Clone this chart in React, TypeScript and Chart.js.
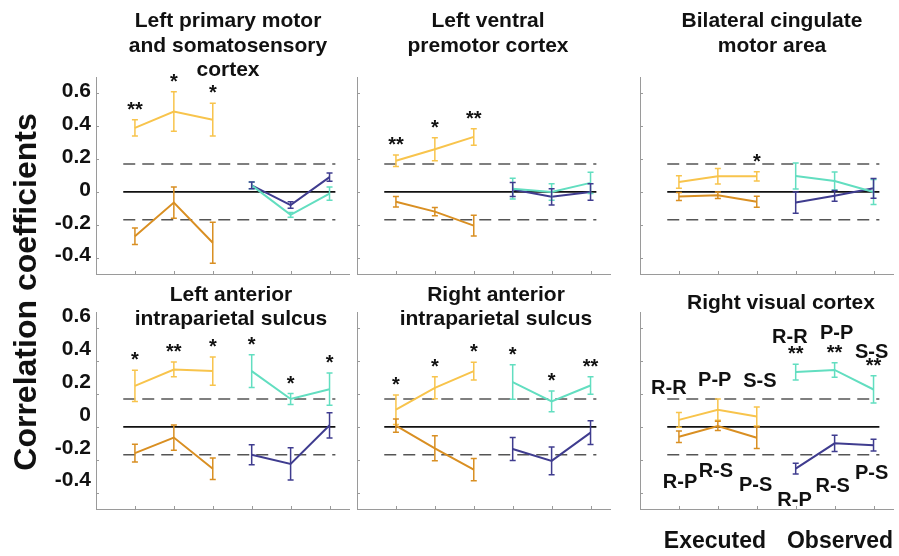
import React, { useEffect, useRef } from 'react';
import { Chart, registerables } from 'chart.js';

Chart.register(...registerables);

const FONT = "'Liberation Sans', Arial, Helvetica, sans-serif";

// ---------- shared axes data ----------
const executedX = [1, 2, 3];
const observedX = [4, 5, 6];
const conditionTicks = [1, 2, 3, 4, 5, 6];
const yTickValues = [-0.4, -0.2, 0, 0.2, 0.4, 0.6];
const yTickLabels = ['-0.4', '-0.2', '0', '0.2', '0.4', '0.6'];
const significanceThreshold = 0.17;
const referenceSpan = [0.7, 6.15];
const bottomLabels = ['Executed', 'Observed'];
const yAxisTitle = 'Correlation coefficients';

// ---------- A: Left primary motor and somatosensory cortex ----------
const aTitle = ['Left primary motor', 'and somatosensory', 'cortex'];
const aExecSame = [0.39, 0.49, 0.44];
const aExecSameErr = [0.05, 0.12, 0.1];
const aExecSameStars = ['**', '*', '*'];
const aExecDiff = [-0.27, -0.065, -0.31];
const aExecDiffErr = [0.05, 0.095, 0.125];
const aObsSame = [0.04, -0.14, -0.01];
const aObsSameErr = [0.02, 0.015, 0.04];
const aObsDiff = [0.04, -0.08, 0.09];
const aObsDiffErr = [0.02, 0.02, 0.025];

// ---------- B: Left ventral premotor cortex ----------
const bTitle = ['Left ventral', 'premotor cortex'];
const bExecSame = [0.19, 0.26, 0.335];
const bExecSameErr = [0.035, 0.07, 0.05];
const bExecSameStars = ['**', '*', '**'];
const bExecDiff = [-0.06, -0.12, -0.205];
const bExecDiffErr = [0.032, 0.025, 0.063];
const bObsSame = [0.02, 0.0, 0.055];
const bObsSameErr = [0.063, 0.05, 0.065];
const bObsDiff = [0.015, -0.03, 0.0];
const bObsDiffErr = [0.043, 0.05, 0.05];

// ---------- C: Bilateral cingulate motor area ----------
const cTitle = ['Bilateral cingulate', 'motor area'];
const cExecSame = [0.06, 0.095, 0.095];
const cExecSameErr = [0.038, 0.047, 0.028];
const cExecSameStars = ['', '', '*'];
const cExecDiff = [-0.028, -0.02, -0.06];
const cExecDiffErr = [0.025, 0.02, 0.033];
const cObsSame = [0.097, 0.067, 0.0];
const cObsSameErr = [0.079, 0.055, 0.076];
const cObsDiff = [-0.065, -0.024, 0.022];
const cObsDiffErr = [0.065, 0.033, 0.06];

// ---------- D: Left anterior intraparietal sulcus ----------
const dTitle = ['Left anterior', 'intraparietal sulcus'];
const dExecSame = [0.25, 0.35, 0.34];
const dExecSameErr = [0.095, 0.045, 0.086];
const dExecSameStars = ['*', '**', '*'];
const dExecDiff = [-0.16, -0.065, -0.255];
const dExecDiffErr = [0.054, 0.077, 0.066];
const dObsSame = [0.34, 0.17, 0.23];
const dObsSameErr = [0.1, 0.033, 0.098];
const dObsSameStars = ['*', '*', '*'];
const dObsDiff = [-0.17, -0.225, 0.01];
const dObsDiffErr = [0.061, 0.098, 0.077];

// ---------- E: Right anterior intraparietal sulcus ----------
const eTitle = ['Right anterior', 'intraparietal sulcus'];
const eExecSame = [0.105, 0.238, 0.34];
const eExecSameErr = [0.09, 0.067, 0.054];
const eExecSameStars = ['*', '*', '*'];
const eExecDiff = [0.008, -0.13, -0.26];
const eExecDiffErr = [0.04, 0.076, 0.068];
const eObsSame = [0.273, 0.156, 0.252];
const eObsSameErr = [0.105, 0.063, 0.053];
const eObsSameStars = ['*', '*', '**'];
const eObsDiff = [-0.135, -0.207, -0.035];
const eObsDiffErr = [0.07, 0.085, 0.072];

// ---------- F: Right visual cortex ----------
const fTitle = ['Right visual cortex'];
const fExecSame = [0.043, 0.105, 0.064];
const fExecSameErr = [0.045, 0.065, 0.058];
const fExecDiff = [-0.06, 0.006, -0.066];
const fExecDiffErr = [0.035, 0.028, 0.066];
const fObsSame = [0.334, 0.347, 0.228];
const fObsSameErr = [0.048, 0.044, 0.083];
const fObsSameStars = ['**', '**', '**'];
const fObsDiff = [-0.254, -0.1, -0.111];
const fObsDiffErr = [0.033, 0.05, 0.036];

// pair labels in the visual-cortex panel
const pairLabelText = ['R-R', 'P-P', 'S-S', 'R-R', 'P-P', 'S-S', 'R-P', 'R-S', 'P-S', 'R-P', 'R-S', 'P-S'];
const pairLabelX = [0.74, 1.92, 3.08, 3.85, 5.05, 5.95, 1.03, 1.95, 2.97, 3.97, 4.95, 5.95];
const pairLabelY = [0.246, 0.29, 0.287, 0.555, 0.576, 0.46, -0.332, -0.262, -0.345, -0.442, -0.351, -0.277];

// ---------- styles ----------
const COLOR_EXEC_SAME = '#f8c44c';
const COLOR_EXEC_DIFF = '#d98f22';
const COLOR_OBS_SAME = '#62dec0';
const COLOR_OBS_DIFF = '#3f3c8f';
const AXIS_COLOR = '#9a9a9a';
const TEXT_COLOR = '#111111';

const COL_LEFT = [96, 357, 640];
const AREA_W = 253;
const ROW_TOP = [77, 312];
const AREA_H = 197;
const PAD_T = 30;
const PAD_R = 8;
const PAD_B = 22;

type Series = { xs: number[]; values: number[]; errors: number[]; stars?: string[]; color: string };
type Note = { text: string; x: number; y: number };

function series(xs: number[], values: number[], errors: number[], color: string, stars?: string[]): Series {
  return { xs, values, errors, color, stars };
}

type PanelSpec = { title: string[]; row: number; col: number; series: Series[]; notes: Note[] };

const panels: PanelSpec[] = [
  {
    title: aTitle, row: 0, col: 0, notes: [],
    series: [
      series(executedX, aExecSame, aExecSameErr, COLOR_EXEC_SAME, aExecSameStars),
      series(executedX, aExecDiff, aExecDiffErr, COLOR_EXEC_DIFF),
      series(observedX, aObsSame, aObsSameErr, COLOR_OBS_SAME),
      series(observedX, aObsDiff, aObsDiffErr, COLOR_OBS_DIFF),
    ],
  },
  {
    title: bTitle, row: 0, col: 1, notes: [],
    series: [
      series(executedX, bExecSame, bExecSameErr, COLOR_EXEC_SAME, bExecSameStars),
      series(executedX, bExecDiff, bExecDiffErr, COLOR_EXEC_DIFF),
      series(observedX, bObsSame, bObsSameErr, COLOR_OBS_SAME),
      series(observedX, bObsDiff, bObsDiffErr, COLOR_OBS_DIFF),
    ],
  },
  {
    title: cTitle, row: 0, col: 2, notes: [],
    series: [
      series(executedX, cExecSame, cExecSameErr, COLOR_EXEC_SAME, cExecSameStars),
      series(executedX, cExecDiff, cExecDiffErr, COLOR_EXEC_DIFF),
      series(observedX, cObsSame, cObsSameErr, COLOR_OBS_SAME),
      series(observedX, cObsDiff, cObsDiffErr, COLOR_OBS_DIFF),
    ],
  },
  {
    title: dTitle, row: 1, col: 0, notes: [],
    series: [
      series(executedX, dExecSame, dExecSameErr, COLOR_EXEC_SAME, dExecSameStars),
      series(executedX, dExecDiff, dExecDiffErr, COLOR_EXEC_DIFF),
      series(observedX, dObsSame, dObsSameErr, COLOR_OBS_SAME, dObsSameStars),
      series(observedX, dObsDiff, dObsDiffErr, COLOR_OBS_DIFF),
    ],
  },
  {
    title: eTitle, row: 1, col: 1, notes: [],
    series: [
      series(executedX, eExecSame, eExecSameErr, COLOR_EXEC_SAME, eExecSameStars),
      series(executedX, eExecDiff, eExecDiffErr, COLOR_EXEC_DIFF),
      series(observedX, eObsSame, eObsSameErr, COLOR_OBS_SAME, eObsSameStars),
      series(observedX, eObsDiff, eObsDiffErr, COLOR_OBS_DIFF),
    ],
  },
  {
    title: fTitle, row: 1, col: 2,
    notes: pairLabelText.map((t, i) => ({ text: t, x: pairLabelX[i], y: pairLabelY[i] })),
    series: [
      series(executedX, fExecSame, fExecSameErr, COLOR_EXEC_SAME),
      series(executedX, fExecDiff, fExecDiffErr, COLOR_EXEC_DIFF),
      series(observedX, fObsSame, fObsSameErr, COLOR_OBS_SAME, fObsSameStars),
      series(observedX, fObsDiff, fObsDiffErr, COLOR_OBS_DIFF),
    ],
  },
];

const titleCenters = [228, 488, 772, 231, 496, 781];
const titleTops = [8, 8, 8, 281.5, 281.5, 289.5];

function makeDecor(notes: Note[]) {
  return {
    id: 'decor',
    afterDatasetsDraw(chart: any) {
      const ctx = chart.ctx as CanvasRenderingContext2D;
      const xS = chart.scales.x;
      const yS = chart.scales.y;
      const area = chart.chartArea;
      ctx.save();
      // inward tick marks
      ctx.strokeStyle = AXIS_COLOR;
      ctx.lineWidth = 1;
      yTickValues.forEach((v) => {
        const py = Math.round(yS.getPixelForValue(v)) + 0.5;
        ctx.beginPath();
        ctx.moveTo(area.left, py);
        ctx.lineTo(area.left + 3, py);
        ctx.stroke();
      });
      conditionTicks.forEach((v) => {
        const px = Math.round(xS.getPixelForValue(v)) + 0.5;
        ctx.beginPath();
        ctx.moveTo(px, area.bottom);
        ctx.lineTo(px, area.bottom - 3);
        ctx.stroke();
      });
      // error bars and stars
      chart.data.datasets.forEach((ds: any) => {
        if (!ds.errors) return;
        ctx.strokeStyle = ds.borderColor;
        ctx.lineWidth = 1.5;
        ds.data.forEach((pt: any, i: number) => {
          const px = xS.getPixelForValue(pt.x);
          const top = yS.getPixelForValue(pt.y + ds.errors[i]);
          const bot = yS.getPixelForValue(pt.y - ds.errors[i]);
          ctx.beginPath();
          ctx.moveTo(px, top);
          ctx.lineTo(px, bot);
          ctx.moveTo(px - 3, top);
          ctx.lineTo(px + 3, top);
          ctx.moveTo(px - 3, bot);
          ctx.lineTo(px + 3, bot);
          ctx.stroke();
          const star = ds.stars ? ds.stars[i] : '';
          if (star) {
            ctx.fillStyle = TEXT_COLOR;
            ctx.font = `bold 20px ${FONT}`;
            ctx.textAlign = 'center';
            ctx.textBaseline = 'alphabetic';
            ctx.fillText(star, px, top - 4);
          }
        });
      });
      // pair labels
      ctx.fillStyle = TEXT_COLOR;
      ctx.font = `bold 20px ${FONT}`;
      ctx.textAlign = 'center';
      ctx.textBaseline = 'alphabetic';
      notes.forEach((n) => {
        ctx.fillText(n.text, xS.getPixelForValue(n.x), yS.getPixelForValue(n.y) + 7);
      });
      ctx.restore();
    },
  };
}

function Panel({ spec }: { spec: PanelSpec }) {
  const ref = useRef<HTMLCanvasElement>(null);
  const showLabels = spec.col === 0;
  const yW = showLabels ? 60 : 12;
  const w = yW + AREA_W + PAD_R;
  const h = PAD_T + AREA_H + PAD_B;
  const left = COL_LEFT[spec.col] - yW;
  const top = ROW_TOP[spec.row] - PAD_T;

  useEffect(() => {
    if (!ref.current) return;
    const dataDatasets = spec.series.map((s) => ({
      data: s.xs.map((x, i) => ({ x, y: s.values[i] })),
      errors: s.errors,
      stars: s.stars,
      borderColor: s.color,
      backgroundColor: s.color,
      borderWidth: 2,
      pointRadius: 0,
      tension: 0,
      clip: false,
      order: 0,
    }));
    const refLine = (y: number, dash: number[], color: string, width: number) => ({
      data: [
        { x: referenceSpan[0], y },
        { x: referenceSpan[1], y },
      ],
      borderColor: color,
      borderWidth: width,
      borderDash: dash,
      pointRadius: 0,
      clip: false,
      order: 10,
    });
    const chart = new Chart(ref.current, {
      type: 'line',
      data: {
        datasets: [
          ...dataDatasets,
          refLine(0, [], '#111111', 1.6),
          refLine(significanceThreshold, [12, 7], '#555555', 1.5),
          refLine(-significanceThreshold, [12, 7], '#555555', 1.5),
        ] as any,
      },
      options: {
        animation: false,
        responsive: false,
        events: [],
        layout: { padding: { left: 0, top: PAD_T, right: PAD_R, bottom: PAD_B } },
        plugins: {
          legend: { display: false },
          tooltip: { enabled: false },
          title: { display: false },
        },
        scales: {
          x: {
            type: 'linear',
            min: 0,
            max: 6.5,
            grid: { display: false, drawTicks: false },
            border: { display: true, color: AXIS_COLOR, width: 1 },
            ticks: { display: false },
            afterFit: (s: any) => {
              s.height = 0;
            },
          },
          y: {
            type: 'linear',
            min: -0.5,
            max: 0.7,
            grid: { display: false, drawTicks: false },
            border: { display: true, color: AXIS_COLOR, width: 1 },
            ticks: {
              display: showLabels,
              color: TEXT_COLOR,
              padding: 5,
              labelOffset: spec.row === 1 ? -12 : -2,
              font: { family: FONT, size: 21, weight: 'bold' },
              callback: (v: any) => {
                const i = yTickValues.indexOf(Number(v));
                return i >= 0 ? yTickLabels[i] : '';
              },
            },
            afterBuildTicks: (s: any) => {
              s.ticks = yTickValues.map((v) => ({ value: v }));
            },
            afterFit: (s: any) => {
              s.width = yW;
            },
          },
        } as any,
      },
      plugins: [makeDecor(spec.notes)],
    });
    return () => chart.destroy();
  }, []);

  return (
    <canvas
      ref={ref}
      width={w}
      height={h}
      style={{ position: 'absolute', left, top, width: w, height: h }}
    />
  );
}

export default function App() {
  return (
    <div
      style={{
        position: 'absolute',
        left: 0,
        top: 0,
        width: 899,
        height: 556,
        background: '#ffffff',
        overflow: 'hidden',
        fontFamily: FONT,
        color: TEXT_COLOR,
      }}
    >
      {panels.map((p, i) => (
        <Panel key={i} spec={p} />
      ))}
      {panels.map((p, i) => (
        <div
          key={'t' + i}
          style={{
            position: 'absolute',
            left: titleCenters[i] - 160,
            top: titleTops[i],
            width: 320,
            textAlign: 'center',
            fontSize: 21,
            fontWeight: 'bold',
            lineHeight: '24.5px',
            whiteSpace: 'nowrap',
          }}
        >
          {p.title.map((line, j) => (
            <div key={j}>{line}</div>
          ))}
        </div>
      ))}
      <div
        style={{
          position: 'absolute',
          left: 25 - 200,
          top: 292 - 16,
          width: 400,
          height: 32,
          lineHeight: '32px',
          fontSize: 32,
          fontWeight: 'bold',
          textAlign: 'center',
          whiteSpace: 'nowrap',
          transform: 'rotate(-90deg)',
          transformOrigin: '50% 50%',
        }}
      >
        {yAxisTitle}
      </div>
      {bottomLabels.map((t, i) => (
        <div
          key={'b' + i}
          style={{
            position: 'absolute',
            left: [715, 840][i] - 80,
            top: 528.5,
            width: 160,
            textAlign: 'center',
            fontSize: 23,
            fontWeight: 'bold',
            lineHeight: '23px',
            whiteSpace: 'nowrap',
          }}
        >
          {t}
        </div>
      ))}
    </div>
  );
}
